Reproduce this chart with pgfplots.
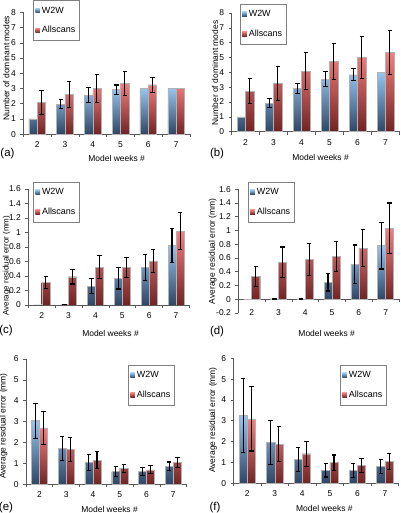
\documentclass[border=0pt]{standalone}
\usepackage{fontspec}
\setmainfont{Liberation Sans}
\usepackage{pgfplots}
\pgfplotsset{compat=1.18}
\definecolor{wtop}{RGB}{150,196,240}
\definecolor{wbot}{RGB}{46,70,100}
\definecolor{atop}{RGB}{242,128,126}
\definecolor{abot}{RGB}{112,36,36}
\pgfplotsset{
  panel/.style={
    scale only axis, anchor=south west,
    xmin=-0.5, xmax=5.5, enlargelimits=false,
    axis x line*=bottom, axis y line*=left,
    axis line style={black!65, line width=0.6bp},
    tick align=outside,
    xtick={0,...,5}, xticklabels={2,3,4,5,6,7},
    minor xtick={-0.5,0.5,...,5.5},
    major x tick style={draw=none},
    minor x tick style={black!65, line width=0.6bp},
    major y tick style={black!65, line width=0.6bp},
    major tick length=3bp, minor tick length=3bp,
    /pgf/number format/assume math mode=true,
    tick label style={font=\fontsize{8.5}{10}\selectfont},
    yticklabel style={xshift=-1bp},
    xticklabel style={yshift=-1bp},
    label style={font=\fontsize{8.5}{10}\selectfont},
    xlabel={Model weeks \#},
    legend style={anchor=north west, draw=black!50, line width=0.6bp, fill=white,
      font=\fontsize{9}{10}\selectfont, row sep=8bp, inner xsep=2bp, inner ysep=4bp},
    legend cell align=left,
  },
  w2w/.style={ybar, bar width=0.3, bar shift=-0.15, top color=wtop, bottom color=wbot,
    draw=black!30, line width=0.4bp,
    legend image code/.code={\path[##1,/tikz/.cd,draw=none] (0bp,-2.3bp) rectangle (4.6bp,2.3bp);}},
  alls/.style={ybar, bar width=0.3, bar shift=0.15, top color=atop, bottom color=abot,
    draw=black!30, line width=0.4bp,
    legend image code/.code={\path[##1,/tikz/.cd,draw=none] (0bp,-2.3bp) rectangle (4.6bp,2.3bp);}},
  errb/.style={forget plot, draw=none, mark=none,
    /pgfplots/error bars/y dir=both, /pgfplots/error bars/y explicit,
    /pgfplots/error bars/error bar style={draw=black, line width=1.1bp, solid},
    /pgfplots/error bars/error mark options={draw=black, line width=1.1bp, mark size=2.2bp, rotate=90}},
}
\begin{document}
\begin{tikzpicture}[x=1bp,y=1bp]
\useasboundingbox (0,0) rectangle (400,513);
% (a)
\begin{axis}[panel, at={(23.3bp,378.8bp)}, width=166.7bp, height=121.8bp,
  ymin=0, ymax=8, ytick={0,1,2,3,4,5,6,7,8},
  ylabel={Number of dominant modes},
  ylabel style={at={(axis description cs:-0.102,0.543)}, anchor=center},
  xlabel style={at={(axis description cs:0.56,0)}, anchor=center, yshift=-24bp},
  legend style={at={(0.058,1.098)}}]
\addplot[w2w] coordinates {(0,1) (1,1.98) (2,2.57) (3,2.93) (4,3) (5,3)};
\addplot[alls] coordinates {(0,2.07) (1,2.6) (2,3.0) (3,3.35) (4,3.25) (5,3.0)};
\legend{W2W,Allscans}
\addplot[errb] coordinates {(0.85,1.98) +- (0,0.3) (1.85,2.57) +- (0,0.5) (2.85,2.93) +- (0,0.3)};
\addplot[errb] coordinates {(0.15,2.07) +- (0,0.78) (1.15,2.6) +- (0,0.87) (2.15,3.0) +- (0,0.93) (3.15,3.35) +- (0,0.79) (4.15,3.25) +- (0,0.49)};
\end{axis}
% (b)
\begin{axis}[panel, at={(231.5bp,381.3bp)}, width=168bp, height=118.7bp,
  ymin=0, ymax=8, ytick={0,1,2,3,4,5,6,7,8},
  ylabel={Number of dominant modes},
  ylabel style={at={(axis description cs:-0.098,0.495)}, anchor=center},
  xlabel style={at={(axis description cs:0.53,0)}, anchor=center, yshift=-26bp},
  legend style={at={(0.05,1.076)}}]
\addplot[w2w] coordinates {(0,0.99) (1,1.93) (2,2.92) (3,3.55) (4,3.84) (5,4.0)};
\addplot[alls] coordinates {(0,2.74) (1,3.24) (2,4.08) (3,4.73) (4,5.0) (5,5.33)};
\legend{W2W,Allscans}
\addplot[errb] coordinates {(0.85,1.93) +- (0,0.28) (1.85,2.92) +- (0,0.34) (2.85,3.55) +- (0,0.53) (3.85,3.84) +- (0,0.4)};
\addplot[errb] coordinates {(0.15,2.74) +- (0,0.87) (1.15,3.24) +- (0,1.13) (2.15,4.08) +- (0,1.23) (3.15,4.73) +- (0,1.24) (4.15,5.0) +- (0,1.39) (5.15,5.33) +- (0,1.49)};
\end{axis}
% (c)
\begin{axis}[panel, at={(28.3bp,208bp)}, width=161.2bp, height=116bp,
  ymin=0, ymax=1.6, ytick={0,0.2,0.4,0.6,0.8,1,1.2,1.4,1.6},
  ylabel={Average residual error (mm)},
  ylabel style={at={(axis description cs:-0.135,0.34)}, anchor=center, font=\fontsize{8}{9}\selectfont},
  xlabel style={at={(axis description cs:0.51,0)}, anchor=center, yshift=-28bp},
  legend style={at={(0.03,1.06)}}]
\addplot[w2w] coordinates {(0,0) (1,0.004) (2,0.26) (3,0.37) (4,0.515) (5,0.82)};
\addplot[alls] coordinates {(0,0.31) (1,0.39) (2,0.52) (3,0.515) (4,0.61) (5,1.02)};
\legend{W2W,Allscans}
\addplot[errb] coordinates {(0.85,0.004) +- (0,0.003) (1.85,0.26) +- (0,0.1) (2.85,0.37) +- (0,0.15) (3.85,0.515) +- (0,0.18) (4.85,0.82) +- (0,0.24)};
\addplot[errb] coordinates {(0.15,0.31) +- (0,0.08) (1.15,0.39) +- (0,0.1) (2.15,0.52) +- (0,0.16) (3.15,0.515) +- (0,0.14) (4.15,0.61) +- (0,0.16) (5.15,1.02) +- (0,0.26)};
\end{axis}
% (d)
\begin{axis}[panel, at={(238.3bp,200bp)}, width=160.7bp, height=123.7bp,
  axis x line*=middle, hide obscured y ticks=false, hide obscured x ticks=false,
  xticklabel style={yshift=-3bp},
  ymin=-0.2, ymax=1.6, ytick={-0.2,0,0.2,0.4,0.6,0.8,1,1.2,1.4,1.6},
  ylabel={Average residual error (mm)},
  ylabel style={at={(axis description cs:-0.159,0.50)}, anchor=center},
  xlabel style={at={(axis description cs:0.55,0)}, anchor=center, yshift=-20bp},
  legend style={at={(0.06,1.059)}}]
\addplot[w2w] coordinates {(0,0) (1,0.004) (2,0.004) (3,0.25) (4,0.51) (5,0.78)};
\addplot[alls] coordinates {(0,0.33) (1,0.54) (2,0.58) (3,0.62) (4,0.74) (5,1.03)};
\legend{W2W,Allscans}
\addplot[errb] coordinates {(0.85,0.004) +- (0,0.004) (1.85,0.004) +- (0,0.004) (2.85,0.25) +- (0,0.13) (3.85,0.51) +- (0,0.28) (4.85,0.78) +- (0,0.34)};
\addplot[errb] coordinates {(0.15,0.33) +- (0,0.15) (1.15,0.54) +- (0,0.22) (2.15,0.58) +- (0,0.23) (3.15,0.62) +- (0,0.22) (4.15,0.74) +- (0,0.27) (5.15,1.03) +- (0,0.37)};
\end{axis}
% (e)
\begin{axis}[panel, at={(26bp,28.7bp)}, width=160.7bp, height=125.3bp,
  ymin=0, ymax=6, ytick={0,1,2,3,4,5,6},
  ylabel={Average residual error (mm)},
  ylabel style={at={(axis description cs:-0.14,0.465)}, anchor=center},
  xlabel style={at={(axis description cs:0.52,0)}, anchor=center, yshift=-25bp},
  legend style={at={(0.635,0.952)}}]
\addplot[w2w] coordinates {(0,3.05) (1,1.72) (2,1.04) (3,0.61) (4,0.61) (5,0.86)};
\addplot[alls] coordinates {(0,2.7) (1,1.67) (2,1.16) (3,0.77) (4,0.69) (5,1.04)};
\legend{W2W,Allscans}
\addplot[errb] coordinates {(-0.15,3.05) +- (0,0.84) (0.85,1.72) +- (0,0.56) (1.85,1.04) +- (0,0.4) (2.85,0.61) +- (0,0.23) (3.85,0.61) +- (0,0.2) (4.85,0.86) +- (0,0.21)};
\addplot[errb] coordinates {(0.15,2.7) +- (0,0.78) (1.15,1.67) +- (0,0.56) (2.15,1.16) +- (0,0.42) (3.15,0.77) +- (0,0.19) (4.15,0.69) +- (0,0.19) (5.15,1.04) +- (0,0.24)};
\end{axis}
% (f)
\begin{axis}[panel, at={(233.5bp,29.7bp)}, width=165.2bp, height=125bp,
  ymin=0, ymax=6, ytick={0,1,2,3,4,5,6},
  ylabel={Average residual error (mm)},
  ylabel style={at={(axis description cs:-0.124,0.506)}, anchor=center},
  xlabel style={at={(axis description cs:0.55,0)}, anchor=center, yshift=-25bp},
  legend style={at={(0.645,0.946)}}]
\addplot[w2w] coordinates {(0,3.25) (1,1.95) (2,1.14) (3,0.62) (4,0.61) (5,0.8)};
\addplot[alls] coordinates {(0,3.09) (1,1.87) (2,1.42) (3,0.99) (4,0.85) (5,1.04)};
\legend{W2W,Allscans}
\addplot[errb] coordinates {(-0.15,3.25) +- (0,1.77) (0.85,1.95) +- (0,1.06) (1.85,1.14) +- (0,0.58) (2.85,0.62) +- (0,0.32) (3.85,0.61) +- (0,0.32) (4.85,0.8) +- (0,0.35)};
\addplot[errb] coordinates {(0.15,3.09) +- (0,1.54) (1.15,1.87) +- (0,0.84) (2.15,1.42) +- (0,0.6) (3.15,0.99) +- (0,0.37) (4.15,0.85) +- (0,0.32) (5.15,1.04) +- (0,0.37)};
\end{axis}
\node[font=\fontsize{11.5}{12}\selectfont] at (7.5,359) {(a)};
\node[font=\fontsize{11.5}{12}\selectfont] at (217,359) {(b)};
\node[font=\fontsize{11.5}{12}\selectfont] at (6,182) {(c)};
\node[font=\fontsize{11.5}{12}\selectfont] at (217,181) {(d)};
\node[font=\fontsize{11.5}{12}\selectfont] at (6,5) {(e)};
\node[font=\fontsize{11.5}{12}\selectfont] at (215,5) {(f)};
\end{tikzpicture}
\end{document}
